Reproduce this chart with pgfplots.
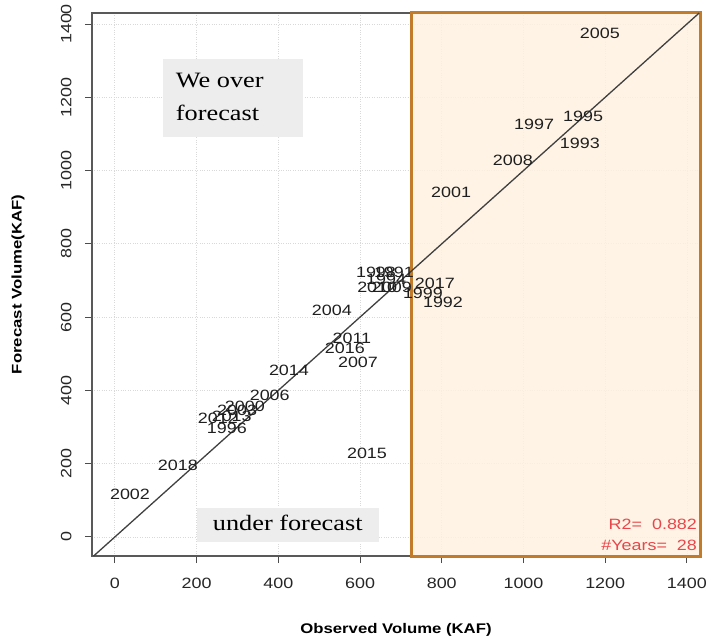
\documentclass[border=0pt]{standalone}
\usepackage{fontspec}
\setmainfont{Liberation Sans}[FakeStretch=1.2]
\newfontfamily\serf{Liberation Serif}[FakeStretch=1.2]
\usepackage{pgfplots}
\usepackage{pgfplotstable}
\pgfplotsset{compat=1.18}
\definecolor{boxorange}{HTML}{C27B2A}
\definecolor{boxfill}{HTML}{FEF1E0}
\definecolor{graybox}{HTML}{EDEDED}
\definecolor{rred}{HTML}{E8464B}

\pgfplotstableread{
year x y
2005 1187 1375
1997 1026 1127
1995 1146 1148
1993 1138 1075
2008 974 1028
2001 823 941
2017 783 693
1999 754 666
1992 803 641
1998 639 723
1991 683 723
1994 664 703
2010 642 682
2009 678 682
2004 531 619
2011 580 543
2016 563 516
2007 595 477
2014 426 456
2006 379 387
2000 318 357
2003 299 346
2013 286 330
2012 252 325
1996 274 297
2018 154 196
2002 37 115
2015 617 229
}\pts

\begin{document}
\begin{tikzpicture}
\useasboundingbox (-92bp,-87bp) rectangle (619bp,556bp);
\begin{axis}[
  at={(0,0)}, anchor=south west, scale only axis,
  width=608bp, height=543bp,
  xmin=-56, xmax=1432, ymin=-52, ymax=1430,
  clip=false,
  xtick={0,200,...,1400}, ytick={0,200,...,1400},
  tick pos=left, tick align=outside, major tick length=7bp,
  tick style={draw=black!70, line width=0.9bp},
  axis line style={draw=black!65, line width=1.5bp},
  grid=major, grid style={dotted, line width=0.8bp, black!15},
  /pgf/number format/assume math mode=true,
  /pgf/number format/1000 sep={},
  ticklabel style={font=\fontsize{15}{15}\selectfont, text=black!85},
  yticklabel style={rotate=90, anchor=south},
  xticklabel style={anchor=north},
  xticklabel shift=12bp, yticklabel shift=10bp,
  xlabel={\bfseries Observed Volume (KAF)},
  ylabel={\bfseries Forecast Volume(KAF)},
  label style={font=\fontsize{14}{14}\selectfont},
  xlabel style={at={(axis description cs:0.5,-0.1363)}, anchor=center},
  ylabel style={at={(axis description cs:-0.1217,0.5)}, anchor=center},
]
\addplot[draw=boxorange, line width=3bp, fill=boxfill, fill opacity=0.85] coordinates {(725,-52) (1432,-52) (1432,1430) (725,1430)} -- cycle;
\addplot[draw=none, fill=graybox] coordinates {(117,1091) (460,1091) (460,1304) (117,1304)} -- cycle;
\addplot[draw=none, fill=graybox] coordinates {(201,-14) (646,-14) (646,79) (201,79)} -- cycle;
\addplot[black!75, line width=1.3bp] coordinates {(-52,-52) (1430,1430)};
\addplot[only marks, mark=none, nodes near coords, point meta=explicit symbolic,
  nodes near coords style={anchor=center, inner sep=0pt, font=\fontsize{15}{15}\selectfont, text=black!88}]
  table[x=x, y=y, meta=year] {\pts};
\node[anchor=west, align=left, inner sep=0pt, font=\serf\fontsize{22}{33}\selectfont] at (axis cs:149,1202) {We over\\forecast};
\node[inner sep=0pt, font=\serf\fontsize{22}{26}\selectfont] at (axis cs:423,38) {under forecast};
\node[anchor=east, inner sep=0pt, text=rred, font=\fontsize{15}{15}\selectfont] at (axis cs:1425,35) {R2=\ \ 0.882};
\node[anchor=east, inner sep=0pt, text=rred, font=\fontsize{15}{15}\selectfont] at (axis cs:1425,-22) {\#Years=\ \ 28};
\end{axis}
\end{tikzpicture}
\end{document}
